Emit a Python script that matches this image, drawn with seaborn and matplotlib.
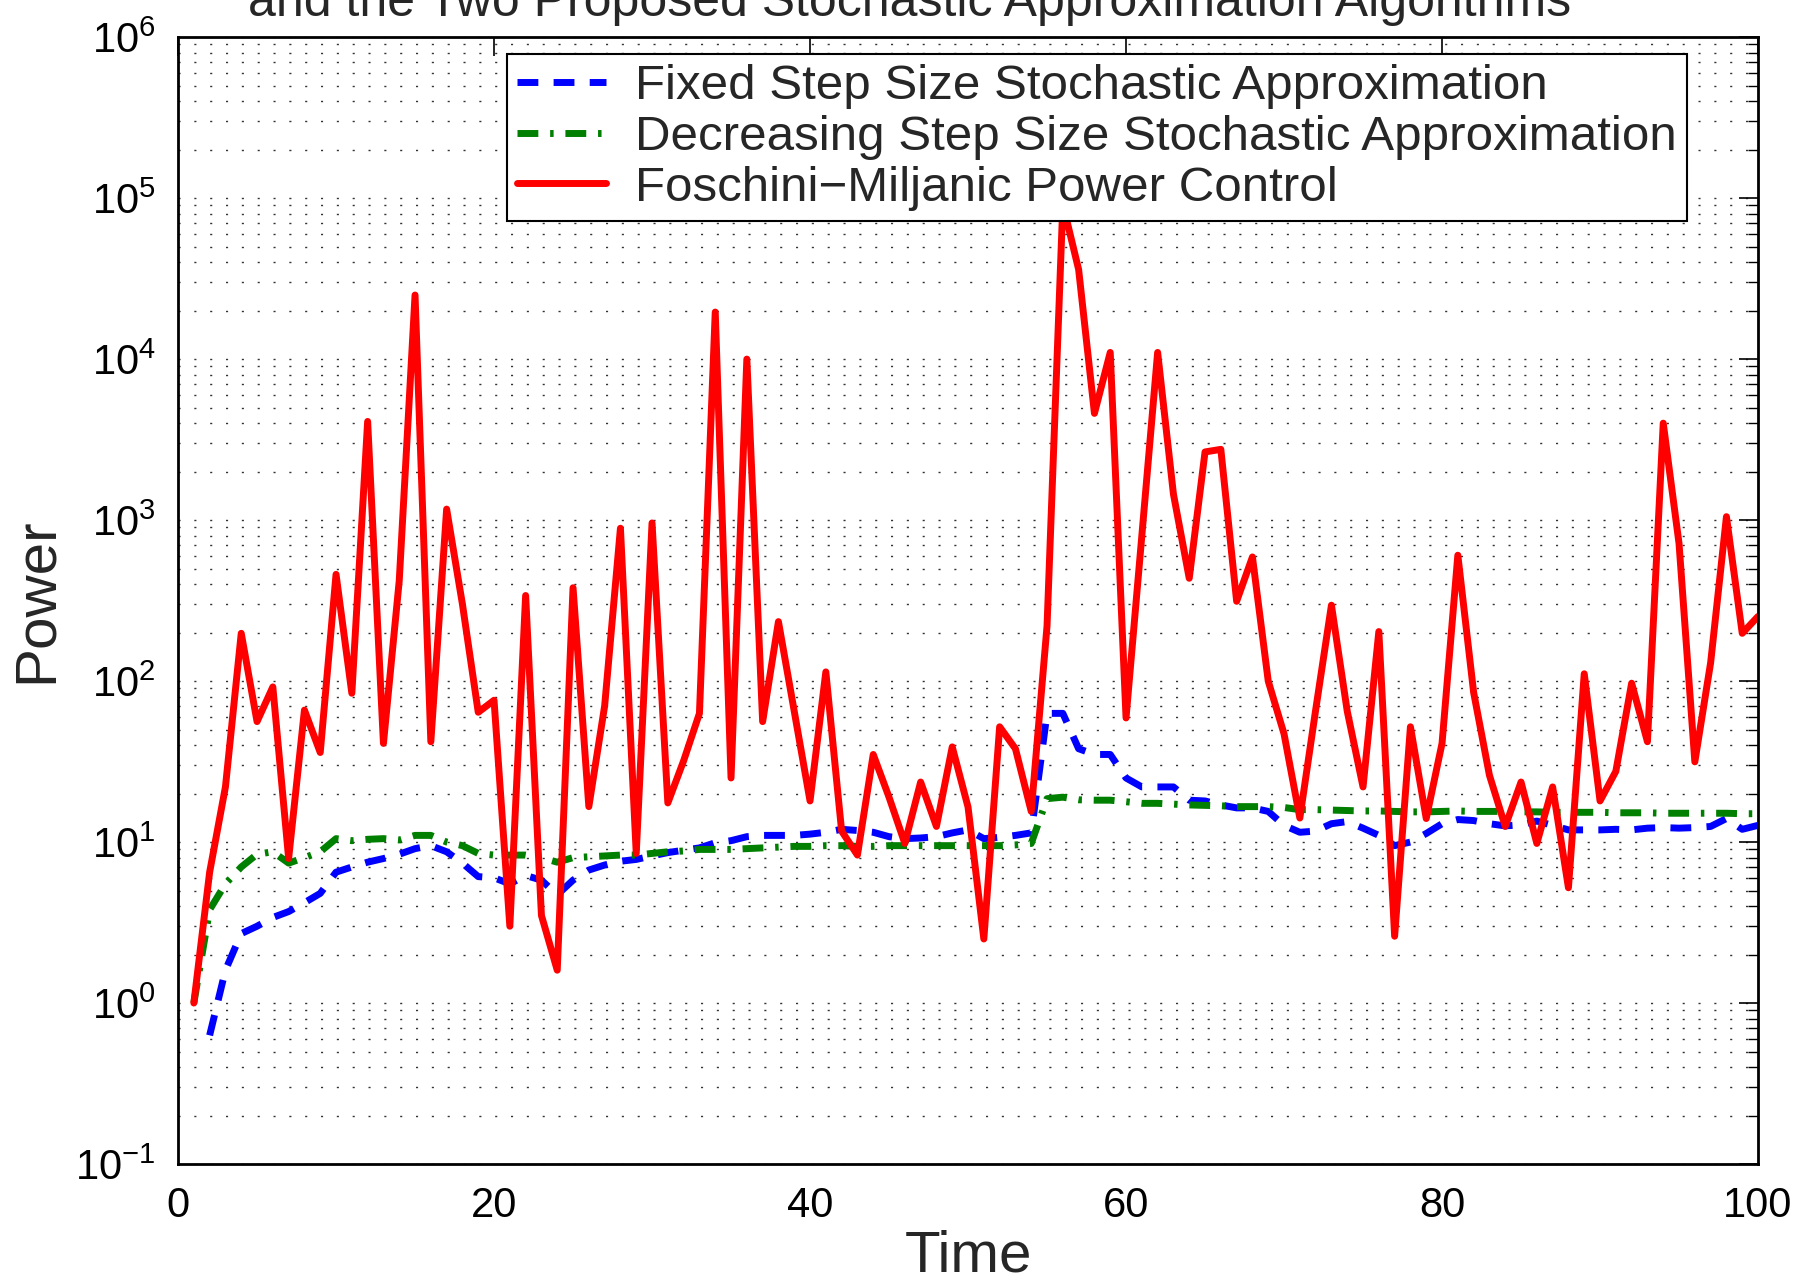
import numpy as np
import pandas as pd
import matplotlib
matplotlib.use("Agg")
import matplotlib.pyplot as plt
import seaborn as sns
from matplotlib.ticker import LogLocator, NullFormatter, FixedLocator

# valores
tempo = list(range(1, 101))

foschini = [1, 6.5, 22, 198, 56, 92, 7.9, 66, 36, 460,
            84, 4100, 41, 420, 25000, 42, 1170, 300, 64, 76,
            3.0, 340, 3.5, 1.6, 380, 16.6, 70, 890, 8.5, 960,
            17.5, 32, 63, 19600, 25, 10000, 56, 234, 65, 18,
            114, 11.7, 8.3, 35, 19, 9.8, 23.6, 12.5, 39, 16.5,
            2.5, 52, 38, 15.5, 220, 92000, 36000, 4600, 11000, 59,
            800, 11000, 1450, 435, 2650, 2750, 313, 590, 100, 47,
            14.1, 66, 296, 65, 22, 203, 2.6, 52, 14, 41,
            605, 85, 26, 12.5, 23.6, 9.8, 22, 5.2, 111, 18,
            27.5, 97, 42, 4000, 715, 31.5, 130, 1050, 198, 252]

tempo_fixo = list(range(2, 101))
passo_fixo = [0.63, 1.6, 2.7, 3.0, 3.4, 3.7, 4.2, 4.8, 6.5,
              7.0, 7.5, 7.9, 8.4, 9.1, 9.5, 8.7, 7.4, 6.1, 6.0,
              5.5, 6.2, 5.8, 4.7, 5.8, 6.7, 7.2, 7.6, 7.8, 8.2,
              8.6, 8.9, 9.2, 9.9, 10.2, 10.8, 11.0, 11.0, 11.0, 11.2,
              11.5, 12.0, 11.8, 11.5, 10.8, 10.5, 10.6, 10.8, 11.4, 11.9,
              10.5, 10.7, 11.0, 11.4, 63, 63, 38, 35, 35, 25,
              22, 22, 22, 18.2, 18, 17, 16.3, 16.3, 15.5, 12.7,
              11.5, 11.7, 13.0, 13.4, 12.2, 11.0, 9.5, 10.0, 11.3, 13.0,
              13.8, 13.6, 13.0, 12.6, 12.8, 13.5, 12.7, 11.9, 11.9, 11.9,
              12.0, 11.9, 12.2, 12.3, 12.2, 12.3, 12.5, 14.0, 12.0, 12.7]

passo_decrescente = [1.0, 3.8, 5.5, 7.0, 8.4, 8.7, 7.4, 8.0, 8.7, 10.5,
                     10.2, 10.4, 10.5, 10.3, 11.0, 11.0, 10.0, 9.5, 8.5, 8.3,
                     8.3, 8.3, 8.0, 7.5, 8.0, 8.1, 8.2, 8.3, 8.3, 8.5,
                     8.7, 8.8, 9.0, 9.0, 9.0, 9.1, 9.2, 9.3, 9.4, 9.4,
                     9.5, 9.5, 9.4, 9.4, 9.5, 9.5, 9.5, 9.5, 9.5, 9.5,
                     9.5, 9.5, 9.6, 9.8, 18.6, 19.0, 18.3, 18.2, 18.2, 17.8,
                     17.4, 17.4, 17.2, 17.0, 16.9, 16.8, 16.6, 16.6, 16.6, 16.4,
                     15.9, 15.9, 15.8, 15.7, 15.6, 15.6, 15.5, 15.4, 15.4, 15.5,
                     15.6, 15.5, 15.5, 15.5, 15.4, 15.4, 15.3, 15.3, 15.3, 15.3,
                     15.2, 15.2, 15.2, 15.1, 15.1, 15.1, 15.1, 15.1, 15.0, 15.0]

rotulos = ["Fixed Step Size Stochastic Approximation",
           "Decreasing Step Size Stochastic Approximation",
           "Foschini\u2212Miljanic Power Control"]

sns.set_style("white")
plt.rcParams["font.family"] = ["Liberation Sans", "DejaVu Sans"]
plt.rcParams["mathtext.default"] = "regular"

fig = plt.figure(figsize=(18.02, 12.8), dpi=100)
ax = fig.add_axes([0.0988, 0.0906, 0.8768, 0.8804])

df_fixo = pd.DataFrame({"Time": tempo_fixo, "Power": passo_fixo})
df_dec = pd.DataFrame({"Time": tempo, "Power": passo_decrescente})
df_fm = pd.DataFrame({"Time": tempo, "Power": foschini})

sns.lineplot(data=df_fixo, x="Time", y="Power", ax=ax, color="#0000ff",
             lw=5.0, linestyle=(0, (3.0, 2.2)), label=rotulos[0])
sns.lineplot(data=df_dec, x="Time", y="Power", ax=ax, color="#007f00",
             lw=5.0, linestyle=(0, (3.0, 1.7, 0.5, 1.7)), label=rotulos[1])
sns.lineplot(data=df_fm, x="Time", y="Power", ax=ax, color="#ff0000",
             lw=5.0, linestyle="-", label=rotulos[2])

ax.set_yscale("log")
ax.set_xlim(0, 100)
ax.set_ylim(0.1, 1e6)
ax.xaxis.set_major_locator(FixedLocator([0, 20, 40, 60, 80, 100]))
ax.yaxis.set_major_locator(LogLocator(base=10, numticks=20))
ax.yaxis.set_minor_locator(LogLocator(base=10, subs=np.arange(2, 10), numticks=100))
ax.yaxis.set_minor_formatter(NullFormatter())

ax.yaxis.grid(True, which="both", linestyle=(0, (1.5, 9.9)), color="#333333", lw=1.0)
ax.xaxis.grid(False)

ax.tick_params(which="both", direction="in", top=True, right=True,
               labelsize=30, colors="black")
ax.tick_params(which="major", length=14, width=1.2, pad=16)
ax.tick_params(which="minor", length=7, width=1.0)
for s in ax.spines.values():
    s.set_color("black")
    s.set_linewidth(2)

ax.set_xlabel("Time", fontsize=42, labelpad=2)
ax.set_ylabel("Power", fontsize=42, labelpad=8)

leg = ax.legend(loc="upper right", bbox_to_anchor=(0.955, 0.985), borderaxespad=0,
                fontsize=35.5, frameon=True, fancybox=False, edgecolor="black",
                framealpha=1, handlelength=1.8, handletextpad=0.6,
                borderpad=0.2, labelspacing=0.12)
leg.get_frame().set_linewidth(1.5)

fig.text(0.505, 0.9875, "and the Two Proposed Stochastic Approximation Algorithms",
         ha="center", va="baseline", fontsize=36)

fig.savefig("out.png", dpi=100)
